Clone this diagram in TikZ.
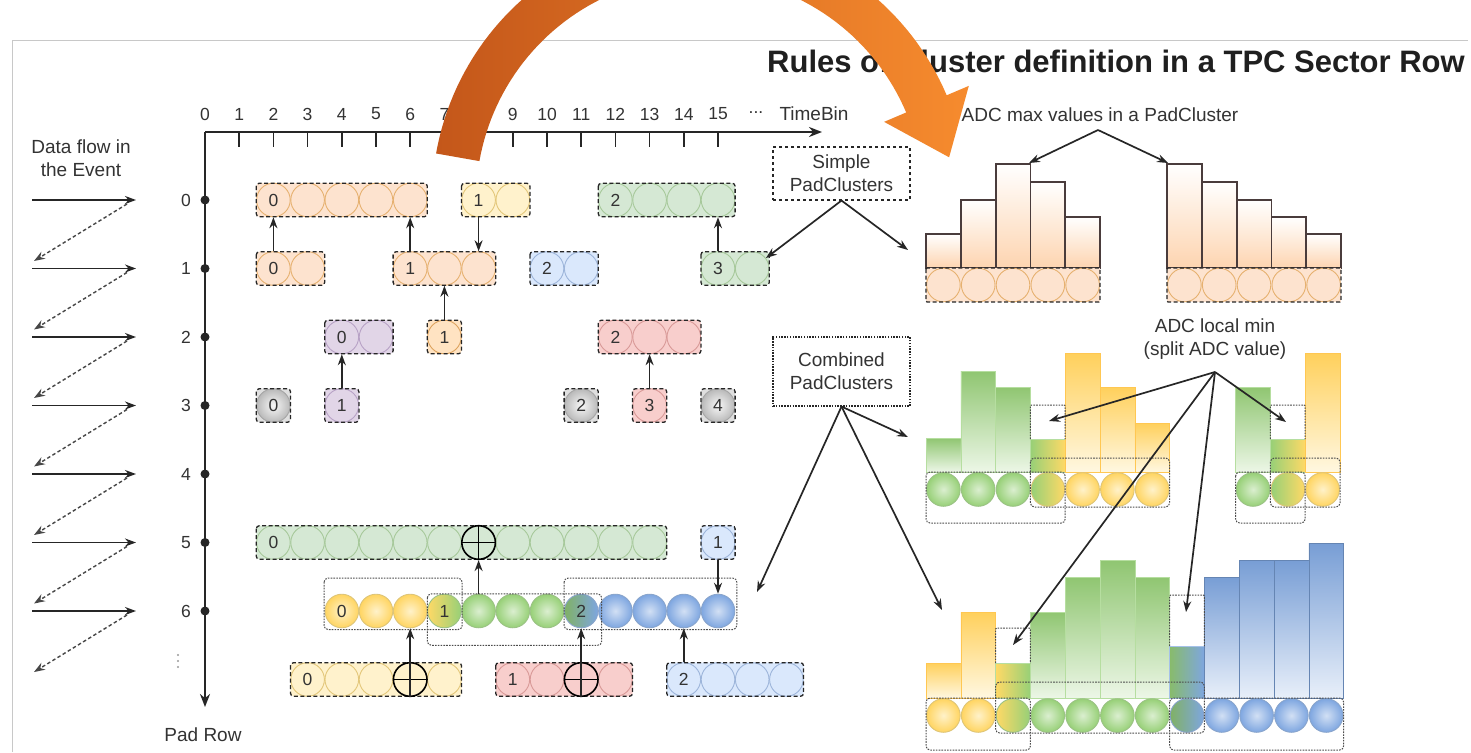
\documentclass[tikz,border=0pt]{standalone}
\usepackage{fontspec}
\setmainfont{Liberation Sans}
\usetikzlibrary{arrows.meta}

\definecolor{ink}{HTML}{262626}
\definecolor{txt}{HTML}{333333}
\definecolor{peach}{HTML}{FDE3CF}
\definecolor{peachline}{HTML}{E6B170}
\definecolor{lorange}{HTML}{FFE3C2}
\definecolor{lorangeline}{HTML}{DDA35E}
\definecolor{paleyel}{HTML}{FFF2CC}
\definecolor{paleyelline}{HTML}{E3C77A}
\definecolor{palegrn}{HTML}{D5E8D4}
\definecolor{palegrnline}{HTML}{A7C99B}
\definecolor{paleblu}{HTML}{DAE8FC}
\definecolor{palebluline}{HTML}{9DB5DA}
\definecolor{palepur}{HTML}{E1D5E7}
\definecolor{palepurline}{HTML}{B8A2C6}
\definecolor{palered}{HTML}{F8CECC}
\definecolor{paleredline}{HTML}{D99A98}
\definecolor{yel}{HTML}{FFD966}
\definecolor{yelline}{HTML}{D6B656}
\definecolor{grn}{HTML}{97D077}
\definecolor{grnline}{HTML}{82B366}
\definecolor{blu}{HTML}{7EA6E0}
\definecolor{bluline}{HTML}{6C8EBF}
\definecolor{orgdark}{HTML}{C4571A}
\definecolor{orglight}{HTML}{F68B2E}
\definecolor{histline}{HTML}{4A3C3C}
\definecolor{framegrey}{HTML}{C8C8C8}

% one pad cluster on the time-bin grid: row, first bin, last bin, box fill, cell style, index
\newcommand{\padcluster}[6]{%
  \fill[#4, rounded corners=3pt] (#2-0.5,#1-0.245) rectangle (#3+0.5,#1+0.245);
  \foreach \b in {#2,...,#3}{\node[padcell, #5] (r#1b\b) at (\b,#1) {};}
  \node[numlabel] (t#1b#2) at (r#1b#2) {#6};
  \draw[clusterframe] (#2-0.5,#1-0.245) rectangle (#3+0.5,#1+0.245);
}

\begin{document}
\begin{tikzpicture}[x=1pt,y=-1pt,
  lbl/.style={text=txt, font=\fontsize{19}{23}\selectfont, inner sep=0pt, align=center},
  numlabel/.style={text=txt, font=\fontsize{17.5}{19}\selectfont, inner sep=0pt},
  padcell/.style={circle, minimum size=33.6pt, inner sep=0pt, line width=0.9pt},
  peachcell/.style={fill=peach, draw=peachline},
  orcell/.style={fill=lorange, draw=lorangeline},
  yelcell/.style={fill=paleyel, draw=paleyelline},
  grncell/.style={fill=palegrn, draw=palegrnline},
  blucell/.style={fill=paleblu, draw=palebluline},
  purcell/.style={fill=palepur, draw=palepurline},
  redcell/.style={fill=palered, draw=paleredline},
  greycell/.style={inner color=gray!6, outer color=gray!55, draw=gray!70},
  yelball/.style={inner color=yel!35!white, outer color=yel!95!orange, draw=yelline!80},
  grnball/.style={inner color=grn!35!white, outer color=grn, draw=grnline!80},
  bluball/.style={inner color=blu!35!white, outer color=blu, draw=bluline!80},
  ygball/.style={left color=yel, right color=grn, draw=grnline!80},
  gyball/.style={left color=grn, right color=yel, draw=yelline!80},
  gbball/.style={left color=grn!85!black, right color=blu, draw=bluline!80},
  mergecell/.style={padcell, draw=black, line width=1.6pt,
    path picture={\draw[black, line width=1.5pt]
      (path picture bounding box.north) -- (path picture bounding box.south)
      (path picture bounding box.west) -- (path picture bounding box.east);}},
  clusterframe/.style={draw=ink, dash pattern=on 4pt off 2.5pt, line width=1.3pt, rounded corners=3pt},
  splitframe/.style={draw=gray!60!black, dash pattern=on 1.6pt off 1.2pt, line width=1pt, rounded corners=4pt},
  textframe/.style={draw=ink, dash pattern=on 3pt off 3pt, line width=1.1pt},
  dotframe/.style={draw=ink, dash pattern=on 1.5pt off 1.3pt, line width=1.1pt},
  link/.style={-{Stealth[length=11pt,width=8pt]}, line width=1.7pt, draw=ink},
  flowback/.style={-{Stealth[length=11pt,width=8pt]}, line width=1.4pt, draw=ink!85, dash pattern=on 3.5pt off 2.5pt},
  axisline/.style={line width=2.4pt, draw=ink},
  histbar/.style={draw=histline, line width=1.8pt, top color=white, bottom color=peach!85!orange},
  gbar/.style={draw=grn!70, line width=0.6pt, top color=grn!95!black, bottom color=grn!18!white},
  ybar/.style={draw=yel!80!orange, line width=0.6pt, top color=yel!90!orange, bottom color=yel!20!white},
  bbar/.style={draw=blu!80!black, line width=0.6pt, top color=blu!95!black, bottom color=blu!18!white},
  ygbar/.style={draw=grn!70, line width=0.6pt, left color=yel, right color=grn},
  gybar/.style={draw=grn!70, line width=0.6pt, left color=grn, right color=yel},
  gbbar/.style={draw=blu!70, line width=0.6pt, left color=grn!90!black, right color=blu}
]
\useasboundingbox (0,0) rectangle (1471,752);
\clip (0,0) rectangle (1471,752);
\fill[white] (0,0) rectangle (1471,752);

% page frame
\draw[framegrey, line width=1pt] (12,752) -- (12,41) -- (1468,41);

% title
\node[anchor=west, inner sep=0pt, text=black!88,
      font=\bfseries\fontsize{31}{34}\selectfont] (title) at (767,61)
      {Rules of Cluster definition in a TPC Sector Row};

% data flow zig-zag
\node[lbl] (flowtext) at (81,158) {Data flow in\\the Event};
\foreach \r in {0,...,6}{
  \coordinate (fl\r) at (32,200+68.5*\r);
  \coordinate (fr\r) at (136,200+68.5*\r);
  \draw[link] (fl\r) -- (fr\r);
}
\foreach \r in {0,...,6}{
  \coordinate (ds\r) at (127,204+68.5*\r);
  \coordinate (de\r) at (34,261+68.5*\r);
  \draw[flowback] (ds\r) -- (de\r);
}

% axes
\coordinate (origin) at (205,132);
\coordinate (tend) at (822,132);
\coordinate (pend) at (205,707);
\draw[axisline, -{Stealth[length=13pt,width=10pt]}] (origin) -- (tend);
\draw[axisline, -{Stealth[length=13pt,width=10pt]}] (origin) -- (pend);
\foreach \t in {1,...,15}{
  \coordinate (tk\t) at (205+34.2*\t,132);
  \draw[line width=1.5pt, ink] (tk\t) -- ++(0,15);
}
\foreach \t in {0,...,15}{
  \node[numlabel] (tb\t) at (205+34.2*\t,114) {\t};
}
\node[numlabel] (tbdots) at (756,113) {...};
\node[lbl] (timebin) at (814,114) {TimeBin};
\foreach \r in {0,...,6}{
  \fill[ink] (205,200+68.5*\r) circle (4.5);
  \node[numlabel] (pr\r) at (186,200+68.5*\r) {\r};
}
% continuation dots below pad row 6
\foreach \d in {655,661,667}{\fill[gray!80] (178,\d) circle (1.1);}
\node[lbl] (padrow) at (203,735) {Pad Row};

% pad clusters per pad row
\begin{scope}[shift={(205pt,-200pt)}, x=34.2pt, y=-68.5pt]
  \padcluster{0}{2}{6}{peach}{peachcell}{0}
  \padcluster{0}{8}{9}{paleyel}{yelcell}{1}
  \padcluster{0}{12}{15}{palegrn}{grncell}{2}
  \padcluster{1}{2}{3}{peach}{peachcell}{0}
  \padcluster{1}{6}{8}{peach}{peachcell}{1}
  \padcluster{1}{10}{11}{paleblu}{blucell}{2}
  \padcluster{1}{15}{16}{palegrn}{grncell}{3}
  \padcluster{2}{4}{5}{palepur}{purcell}{0}
  \padcluster{2}{7}{7}{lorange}{orcell}{1}
  \padcluster{2}{12}{14}{palered}{redcell}{2}
  \padcluster{3}{2}{2}{gray!25}{greycell}{0}
  \padcluster{3}{4}{4}{palepur}{purcell}{1}
  \padcluster{3}{11}{11}{gray!25}{greycell}{2}
  \padcluster{3}{13}{13}{palered}{redcell}{3}
  \padcluster{3}{15}{15}{gray!25}{greycell}{4}
  \padcluster{5}{2}{13}{palegrn}{grncell}{0}
  \node[mergecell, fill=palegrn] (m5b8) at (8,5) {};
  \padcluster{5}{15}{15}{paleblu}{blucell}{1}
  \padcluster{7}{3}{7}{paleyel}{yelcell}{0}
  \node[mergecell, fill=paleyel] (m7b6) at (6,7) {};
  \padcluster{7}{9}{12}{palered}{redcell}{1}
  \node[mergecell, fill=palered] (m7b11) at (11,7) {};
  \padcluster{7}{14}{17}{paleblu}{blucell}{2}

  % combined clusters in pad row 6
  \foreach \b/\s in {4/yelball,5/yelball,6/yelball,7/ygball,8/grnball,9/grnball,
                     10/grnball,11/gbball,12/bluball,13/bluball,14/bluball,15/bluball}{
    \node[padcell, \s] (r6b\b) at (\b,6) {};
  }
  \node[numlabel] (t6b4) at (r6b4) {0};
  \node[numlabel] (t6b7) at (r6b7) {1};
  \node[numlabel, text=black!80] (t6b11) at (r6b11) {2};
  \draw[splitframe] (3.48,5.52) rectangle (7.52,6.27);
  \draw[splitframe] (6.5,5.75) rectangle (11.6,6.5);
  \draw[splitframe] (10.5,5.52) rectangle (15.55,6.27);
\end{scope}

% links between rows
\draw[link] (r1b2) -- (r0b2);
\draw[link] (r1b6) -- (r0b6);
\draw[link] (r0b8) -- (r1b8);
\draw[link] (r1b15) -- (r0b15);
\draw[link] (r2b7) -- (r1b7);
\draw[link] (r3b4) -- (r2b4);
\draw[link] (r3b13) -- (r2b13);
\draw[link] (r6b8) -- (m5b8);
\draw[link] (r5b15) -- (r6b15);
\draw[link] (m7b6.south) -- (r6b6);
\draw[link] (m7b11.south) -- (r6b11);
\draw[link] (r7b14) -- (r6b14);

% legend boxes
\node[lbl, textframe, minimum width=137pt, minimum height=53pt] (simple) at (841.5,173.5) {Simple\\PadClusters};
\node[lbl, dotframe, minimum width=137pt, minimum height=69pt] (combined) at (841.5,371.5) {Combined\\PadClusters};
\coordinate (simpleto) at (908,250);
\coordinate (combto1) at (908,437);
\coordinate (combto2) at (757,592);
\coordinate (combto3) at (942,610);
\draw[link] (simple.south) -- (r1b16);
\draw[link] (simple.south) -- (simpleto);
\draw[link] (combined.south) -- (combto1);
\draw[link] (combined.south) -- (combto2);
\draw[link] (combined.south) -- (combto3);

% simple pad clusters with their ADC max values
\foreach \i/\h in {0/234,1/200,2/164,3/182,4/217}{
  \draw[histbar] (926+34.8*\i,268) rectangle ++(34.8,\h-268);
}
\foreach \i/\h in {0/164,1/182,2/200,3/217,4/234}{
  \draw[histbar] (1167+34.8*\i,268) rectangle ++(34.8,\h-268);
}
\fill[peach] (926,268) rectangle (1100,302);
\fill[peach] (1167,268) rectangle (1341,302);
\foreach \i in {0,...,4}{
  \node[padcell, peachcell] (ha\i) at (943.4+34.8*\i,285) {};
  \node[padcell, peachcell] (hb\i) at (1184.4+34.8*\i,285) {};
}
\draw[clusterframe, rounded corners=1pt] (926,268) rectangle (1100,302);
\draw[clusterframe, rounded corners=1pt] (1167,268) rectangle (1341,302);
\node[lbl] (adcmax) at (1100,115) {ADC max values in a PadCluster};
\coordinate (maxsrc) at (1098,130);
\coordinate (maxa) at (1029,163);
\coordinate (maxb) at (1168,163);
\draw[link] (maxsrc) -- (maxa);
\draw[link] (maxsrc) -- (maxb);

% combined clusters split at the ADC local minimum
\foreach \i/\h/\s in {0/438/gbar,1/371/gbar,2/387/gbar,3/439/gybar,4/353/ybar,5/387/ybar,6/423/ybar}{
  \draw[\s] (926+34.8*\i,472) rectangle ++(34.8,\h-472);
}
\foreach \i/\s in {0/grnball,1/grnball,2/grnball,3/gyball,4/yelball,5/yelball,6/yelball}{
  \node[padcell, \s] (ca\i) at (943.4+34.8*\i,489.5) {};
}
\draw[splitframe] (926,472) rectangle (1065.2,523);
\draw[splitframe] (1030.4,458) rectangle (1169.6,507);
\draw[splitframe, rounded corners=1pt] (1030.4,439) -- (1030.4,405) -- (1065.2,405) -- (1065.2,439);

\foreach \i/\h/\s in {0/387/gbar,1/439/gybar,2/353/ybar}{
  \draw[\s] (1235.6+34.8*\i,472) rectangle ++(34.8,\h-472);
}
\foreach \i/\s in {0/grnball,1/gyball,2/yelball}{
  \node[padcell, \s] (cb\i) at (1253+34.8*\i,489.5) {};
}
\draw[splitframe] (1235.6,472) rectangle (1305.2,523);
\draw[splitframe] (1270.4,458) rectangle (1340,507);
\draw[splitframe, rounded corners=1pt] (1270.4,439) -- (1270.4,405) -- (1305.2,405) -- (1305.2,439);

\foreach \i/\h/\s in {0/663/ybar,1/612/ybar,2/663/ygbar,3/612/gbar,4/577/gbar,5/560/gbar,
                      6/577/gbar,7/646/gbbar,8/577/bbar,9/560/bbar,10/560/bbar,11/543/bbar}{
  \draw[\s] (926+34.8*\i,698) rectangle ++(34.8,\h-698);
}
\foreach \i/\s in {0/yelball,1/yelball,2/ygball,3/grnball,4/grnball,5/grnball,
                   6/grnball,7/gbball,8/bluball,9/bluball,10/bluball,11/bluball}{
  \node[padcell, \s] (cc\i) at (943.4+34.8*\i,715.5) {};
}
\draw[splitframe] (926,698) rectangle (1030.4,750);
\draw[splitframe] (995.6,682) rectangle (1204.4,733);
\draw[splitframe] (1169.6,698) rectangle (1343.6,750);
\draw[splitframe, rounded corners=1pt] (995.6,663) -- (995.6,628) -- (1030.4,628) -- (1030.4,663);
\draw[splitframe, rounded corners=1pt] (1169.6,646) -- (1169.6,595) -- (1204.4,595) -- (1204.4,646);

\node[lbl] (adcmin) at (1215,339) {ADC local min\\(split ADC value)};
\coordinate (minsrc) at (1215,372);
\coordinate (mina) at (1049,421);
\coordinate (minb) at (1286,422);
\coordinate (minc) at (1013,645);
\coordinate (mind) at (1186,612);
\draw[link] (minsrc) -- (mina);
\draw[link] (minsrc) -- (minb);
\draw[link] (minsrc) -- (minc);
\draw[link] (minsrc) -- (mind);

% large curved arrow from the pad rows to the cluster rules
\shade[left color=orgdark, right color=orglight]
  plot[domain=-170:-23, samples=80] ({700+268*cos(\x)},{200+268*sin(\x)})
  -- ({700+292*cos(-23)},{200+292*sin(-23)})
  -- ({700+246*cos(-23)+58*sin(23)},{200+246*sin(-23)+58*cos(23)})
  -- ({700+200*cos(-23)},{200+200*sin(-23)})
  -- plot[domain=-23:-170, samples=80] ({700+224*cos(\x)},{200+224*sin(\x)})
  -- cycle;
\end{tikzpicture}
\end{document}
